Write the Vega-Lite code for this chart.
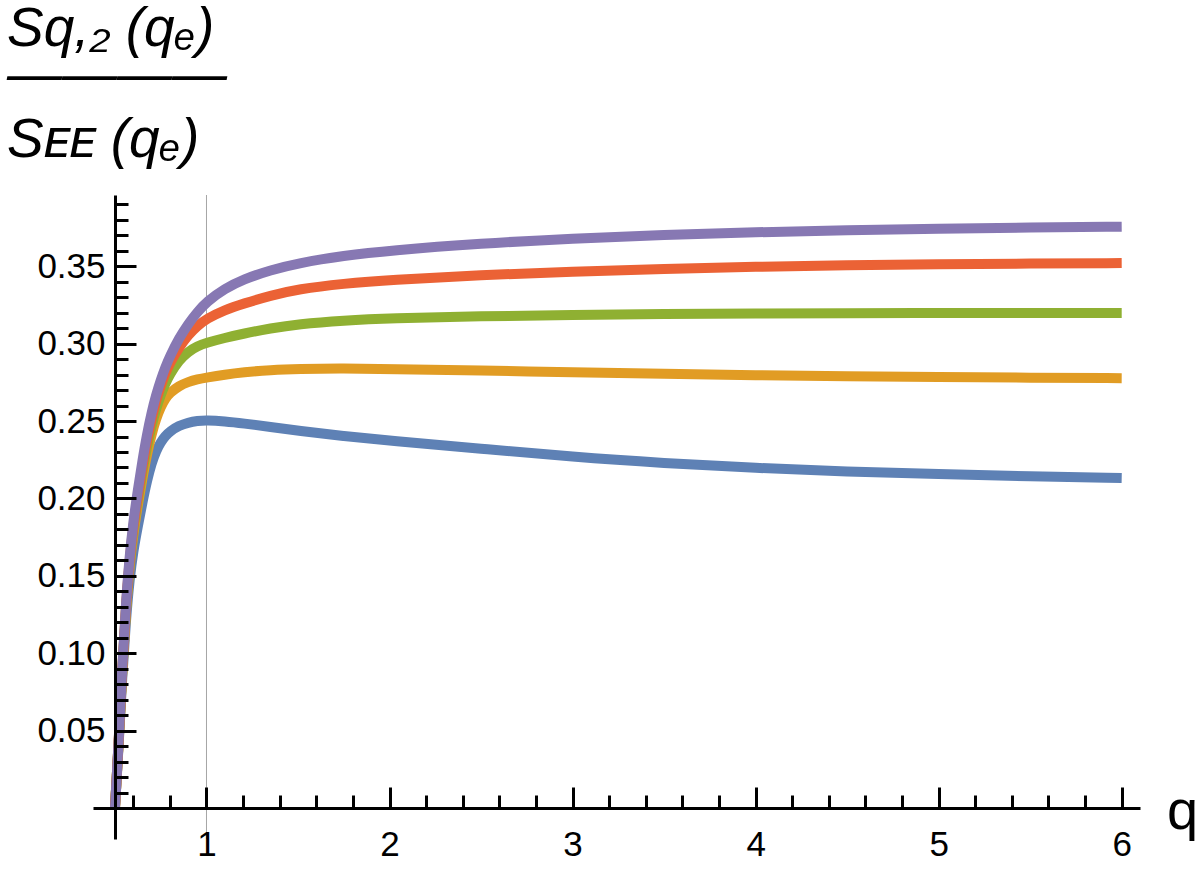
{
  "$schema": "https://vega.github.io/schema/vega-lite/v6.json",
  "width": 1047,
  "height": 644,
  "autosize": "none",
  "padding": {"left": 93, "top": 195, "right": 64, "bottom": 34},
  "background": "white",
  "config": {"view": {"stroke": null}, "font": "Liberation Sans"},
  "title": {
    "text": ["Sq,₂ (qₑ)", "————"],
    "subtitle": "Sᴇᴇ (qₑ)",
    "anchor": "start",
    "frame": "group",
    "dx": -86,
    "offset": 26,
    "font": "Liberation Sans",
    "fontSize": 55,
    "lineHeight": 46,
    "fontStyle": "italic",
    "fontWeight": "normal",
    "color": "black",
    "subtitleFont": "Liberation Sans",
    "subtitleFontSize": 55,
    "subtitleFontStyle": "italic",
    "subtitleColor": "black",
    "subtitlePadding": 10
  },
  "datasets": {
    "curves": [
      {"q": 0.5, "ratio": 0, "curve": "s1"},
      {"q": 0.51, "ratio": 0.02, "curve": "s1"},
      {"q": 0.52, "ratio": 0.04, "curve": "s1"},
      {"q": 0.54, "ratio": 0.086, "curve": "s1"},
      {"q": 0.56, "ratio": 0.122, "curve": "s1"},
      {"q": 0.58, "ratio": 0.148, "curve": "s1"},
      {"q": 0.6, "ratio": 0.166, "curve": "s1"},
      {"q": 0.625, "ratio": 0.182, "curve": "s1"},
      {"q": 0.65, "ratio": 0.1975, "curve": "s1"},
      {"q": 0.675, "ratio": 0.2115, "curve": "s1"},
      {"q": 0.7, "ratio": 0.2228, "curve": "s1"},
      {"q": 0.725, "ratio": 0.2308, "curve": "s1"},
      {"q": 0.75, "ratio": 0.2363, "curve": "s1"},
      {"q": 0.775, "ratio": 0.2403, "curve": "s1"},
      {"q": 0.8, "ratio": 0.2433, "curve": "s1"},
      {"q": 0.85, "ratio": 0.247, "curve": "s1"},
      {"q": 0.9, "ratio": 0.249, "curve": "s1"},
      {"q": 0.95, "ratio": 0.2501, "curve": "s1"},
      {"q": 1.0, "ratio": 0.2505, "curve": "s1"},
      {"q": 1.1, "ratio": 0.2498, "curve": "s1"},
      {"q": 1.2, "ratio": 0.2485, "curve": "s1"},
      {"q": 1.35, "ratio": 0.2462, "curve": "s1"},
      {"q": 1.5, "ratio": 0.2437, "curve": "s1"},
      {"q": 1.75, "ratio": 0.2402, "curve": "s1"},
      {"q": 2.0, "ratio": 0.2373, "curve": "s1"},
      {"q": 2.5, "ratio": 0.2321, "curve": "s1"},
      {"q": 3.0, "ratio": 0.2268, "curve": "s1"},
      {"q": 3.5, "ratio": 0.2228, "curve": "s1"},
      {"q": 4.0, "ratio": 0.2196, "curve": "s1"},
      {"q": 4.5, "ratio": 0.2173, "curve": "s1"},
      {"q": 5.0, "ratio": 0.2157, "curve": "s1"},
      {"q": 5.5, "ratio": 0.2143, "curve": "s1"},
      {"q": 6.0, "ratio": 0.2132, "curve": "s1"},
      {"q": 0.5, "ratio": 0, "curve": "s2"},
      {"q": 0.51, "ratio": 0.021, "curve": "s2"},
      {"q": 0.52, "ratio": 0.041, "curve": "s2"},
      {"q": 0.54, "ratio": 0.089, "curve": "s2"},
      {"q": 0.56, "ratio": 0.128, "curve": "s2"},
      {"q": 0.58, "ratio": 0.157, "curve": "s2"},
      {"q": 0.6, "ratio": 0.177, "curve": "s2"},
      {"q": 0.625, "ratio": 0.196, "curve": "s2"},
      {"q": 0.65, "ratio": 0.213, "curve": "s2"},
      {"q": 0.675, "ratio": 0.2285, "curve": "s2"},
      {"q": 0.7, "ratio": 0.2415, "curve": "s2"},
      {"q": 0.725, "ratio": 0.2515, "curve": "s2"},
      {"q": 0.75, "ratio": 0.2592, "curve": "s2"},
      {"q": 0.775, "ratio": 0.2645, "curve": "s2"},
      {"q": 0.8, "ratio": 0.2682, "curve": "s2"},
      {"q": 0.85, "ratio": 0.2727, "curve": "s2"},
      {"q": 0.9, "ratio": 0.2753, "curve": "s2"},
      {"q": 0.95, "ratio": 0.277, "curve": "s2"},
      {"q": 1.0, "ratio": 0.2781, "curve": "s2"},
      {"q": 1.1, "ratio": 0.28, "curve": "s2"},
      {"q": 1.2, "ratio": 0.2815, "curve": "s2"},
      {"q": 1.35, "ratio": 0.283, "curve": "s2"},
      {"q": 1.5, "ratio": 0.2837, "curve": "s2"},
      {"q": 1.75, "ratio": 0.284, "curve": "s2"},
      {"q": 2.0, "ratio": 0.2836, "curve": "s2"},
      {"q": 2.5, "ratio": 0.2826, "curve": "s2"},
      {"q": 3.0, "ratio": 0.2815, "curve": "s2"},
      {"q": 3.5, "ratio": 0.2805, "curve": "s2"},
      {"q": 4.0, "ratio": 0.2796, "curve": "s2"},
      {"q": 4.5, "ratio": 0.2789, "curve": "s2"},
      {"q": 5.0, "ratio": 0.2784, "curve": "s2"},
      {"q": 5.5, "ratio": 0.278, "curve": "s2"},
      {"q": 6.0, "ratio": 0.2777, "curve": "s2"},
      {"q": 0.5, "ratio": 0, "curve": "s3"},
      {"q": 0.51, "ratio": 0.021, "curve": "s3"},
      {"q": 0.52, "ratio": 0.042, "curve": "s3"},
      {"q": 0.54, "ratio": 0.09, "curve": "s3"},
      {"q": 0.56, "ratio": 0.13, "curve": "s3"},
      {"q": 0.58, "ratio": 0.159, "curve": "s3"},
      {"q": 0.6, "ratio": 0.18, "curve": "s3"},
      {"q": 0.625, "ratio": 0.1995, "curve": "s3"},
      {"q": 0.65, "ratio": 0.2175, "curve": "s3"},
      {"q": 0.675, "ratio": 0.2335, "curve": "s3"},
      {"q": 0.7, "ratio": 0.247, "curve": "s3"},
      {"q": 0.725, "ratio": 0.258, "curve": "s3"},
      {"q": 0.75, "ratio": 0.267, "curve": "s3"},
      {"q": 0.775, "ratio": 0.2742, "curve": "s3"},
      {"q": 0.8, "ratio": 0.2802, "curve": "s3"},
      {"q": 0.85, "ratio": 0.2893, "curve": "s3"},
      {"q": 0.9, "ratio": 0.2948, "curve": "s3"},
      {"q": 0.95, "ratio": 0.2983, "curve": "s3"},
      {"q": 1.0, "ratio": 0.3005, "curve": "s3"},
      {"q": 1.1, "ratio": 0.3037, "curve": "s3"},
      {"q": 1.2, "ratio": 0.3064, "curve": "s3"},
      {"q": 1.35, "ratio": 0.3099, "curve": "s3"},
      {"q": 1.5, "ratio": 0.3126, "curve": "s3"},
      {"q": 1.75, "ratio": 0.315, "curve": "s3"},
      {"q": 2.0, "ratio": 0.3164, "curve": "s3"},
      {"q": 2.5, "ratio": 0.3177, "curve": "s3"},
      {"q": 3.0, "ratio": 0.3185, "curve": "s3"},
      {"q": 3.5, "ratio": 0.3191, "curve": "s3"},
      {"q": 4.0, "ratio": 0.3195, "curve": "s3"},
      {"q": 4.5, "ratio": 0.3197, "curve": "s3"},
      {"q": 5.0, "ratio": 0.3198, "curve": "s3"},
      {"q": 5.5, "ratio": 0.3198, "curve": "s3"},
      {"q": 6.0, "ratio": 0.3198, "curve": "s3"},
      {"q": 0.5, "ratio": 0, "curve": "s4"},
      {"q": 0.51, "ratio": 0.021, "curve": "s4"},
      {"q": 0.52, "ratio": 0.042, "curve": "s4"},
      {"q": 0.54, "ratio": 0.091, "curve": "s4"},
      {"q": 0.56, "ratio": 0.131, "curve": "s4"},
      {"q": 0.58, "ratio": 0.161, "curve": "s4"},
      {"q": 0.6, "ratio": 0.182, "curve": "s4"},
      {"q": 0.625, "ratio": 0.202, "curve": "s4"},
      {"q": 0.65, "ratio": 0.2205, "curve": "s4"},
      {"q": 0.675, "ratio": 0.2375, "curve": "s4"},
      {"q": 0.7, "ratio": 0.2515, "curve": "s4"},
      {"q": 0.725, "ratio": 0.2632, "curve": "s4"},
      {"q": 0.75, "ratio": 0.2728, "curve": "s4"},
      {"q": 0.775, "ratio": 0.2808, "curve": "s4"},
      {"q": 0.8, "ratio": 0.2875, "curve": "s4"},
      {"q": 0.85, "ratio": 0.2975, "curve": "s4"},
      {"q": 0.9, "ratio": 0.3055, "curve": "s4"},
      {"q": 0.95, "ratio": 0.3115, "curve": "s4"},
      {"q": 1.0, "ratio": 0.316, "curve": "s4"},
      {"q": 1.1, "ratio": 0.3218, "curve": "s4"},
      {"q": 1.2, "ratio": 0.3258, "curve": "s4"},
      {"q": 1.35, "ratio": 0.331, "curve": "s4"},
      {"q": 1.5, "ratio": 0.3352, "curve": "s4"},
      {"q": 1.75, "ratio": 0.3388, "curve": "s4"},
      {"q": 2.0, "ratio": 0.3412, "curve": "s4"},
      {"q": 2.5, "ratio": 0.3443, "curve": "s4"},
      {"q": 3.0, "ratio": 0.3466, "curve": "s4"},
      {"q": 3.5, "ratio": 0.3483, "curve": "s4"},
      {"q": 4.0, "ratio": 0.3497, "curve": "s4"},
      {"q": 4.5, "ratio": 0.3507, "curve": "s4"},
      {"q": 5.0, "ratio": 0.3513, "curve": "s4"},
      {"q": 5.5, "ratio": 0.3517, "curve": "s4"},
      {"q": 6.0, "ratio": 0.352, "curve": "s4"},
      {"q": 0.5, "ratio": 0, "curve": "s5"},
      {"q": 0.51, "ratio": 0.021, "curve": "s5"},
      {"q": 0.52, "ratio": 0.043, "curve": "s5"},
      {"q": 0.54, "ratio": 0.092, "curve": "s5"},
      {"q": 0.56, "ratio": 0.133, "curve": "s5"},
      {"q": 0.58, "ratio": 0.163, "curve": "s5"},
      {"q": 0.6, "ratio": 0.185, "curve": "s5"},
      {"q": 0.625, "ratio": 0.2055, "curve": "s5"},
      {"q": 0.65, "ratio": 0.2245, "curve": "s5"},
      {"q": 0.675, "ratio": 0.2415, "curve": "s5"},
      {"q": 0.7, "ratio": 0.2555, "curve": "s5"},
      {"q": 0.725, "ratio": 0.267, "curve": "s5"},
      {"q": 0.75, "ratio": 0.2765, "curve": "s5"},
      {"q": 0.775, "ratio": 0.2848, "curve": "s5"},
      {"q": 0.8, "ratio": 0.2918, "curve": "s5"},
      {"q": 0.85, "ratio": 0.3035, "curve": "s5"},
      {"q": 0.9, "ratio": 0.3128, "curve": "s5"},
      {"q": 0.95, "ratio": 0.3203, "curve": "s5"},
      {"q": 1.0, "ratio": 0.327, "curve": "s5"},
      {"q": 1.1, "ratio": 0.3355, "curve": "s5"},
      {"q": 1.2, "ratio": 0.3415, "curve": "s5"},
      {"q": 1.35, "ratio": 0.3475, "curve": "s5"},
      {"q": 1.5, "ratio": 0.352, "curve": "s5"},
      {"q": 1.75, "ratio": 0.3568, "curve": "s5"},
      {"q": 2.0, "ratio": 0.3601, "curve": "s5"},
      {"q": 2.5, "ratio": 0.3647, "curve": "s5"},
      {"q": 3.0, "ratio": 0.3679, "curve": "s5"},
      {"q": 3.5, "ratio": 0.3702, "curve": "s5"},
      {"q": 4.0, "ratio": 0.372, "curve": "s5"},
      {"q": 4.5, "ratio": 0.3733, "curve": "s5"},
      {"q": 5.0, "ratio": 0.3743, "curve": "s5"},
      {"q": 5.5, "ratio": 0.375, "curve": "s5"},
      {"q": 6.0, "ratio": 0.3755, "curve": "s5"}
    ],
    "marker": [{"q": 1}]
  },
  "layer": [
    {
      "data": {"name": "marker"},
      "mark": {"type": "rule", "color": "#a6a6a6", "strokeWidth": 1},
      "encoding": {
        "x": {"field": "q", "type": "quantitative", "scale": {"domain": [0.38, 6.1], "nice": false, "zero": false}, "axis": null}
      }
    },
    {
      "data": {"name": "curves"},
      "mark": {"type": "line", "strokeWidth": 10, "interpolate": "basis"},
      "encoding": {
        "x": {
          "field": "q", "type": "quantitative",
          "scale": {"domain": [0.38, 6.1], "nice": false, "zero": false},
          "axis": {
            "orient": "bottom", "offset": -31, "values": [1, 2, 3, 4, 5, 6], "format": "d",
            "grid": false, "tickSize": -21, "tickWidth": 3, "tickColor": "black",
            "domainColor": "black", "domainWidth": 3,
            "labelFont": "Liberation Sans", "labelFontSize": 35, "labelColor": "black",
            "labelPadding": 40, "labelFlush": false, "labelOverlap": false,
            "title": "q", "titleFont": "Liberation Sans", "titleFontSize": 56, "titleFontWeight": "normal",
            "titleColor": "black", "titleX": 1089, "titleY": 20, "titleAlign": "center",
            "titleBaseline": "alphabetic", "titleAngle": 0, "zindex": 1
          }
        },
        "y": {
          "field": "ratio", "type": "quantitative",
          "scale": {"domain": [-0.02, 0.396], "nice": false, "zero": false},
          "axis": {
            "orient": "left", "offset": -22, "values": [0.05, 0.1, 0.15, 0.2, 0.25, 0.3, 0.35], "format": ".2f",
            "grid": false, "tickSize": -21, "tickWidth": 3, "tickColor": "black",
            "domainColor": "black", "domainWidth": 3,
            "labelFont": "Liberation Sans", "labelFontSize": 35, "labelColor": "black",
            "labelPadding": 31, "labelFlush": false, "labelOverlap": false,
            "title": null, "zindex": 1
          }
        },
        "color": {
          "field": "curve", "type": "nominal",
          "scale": {"domain": ["s1", "s2", "s3", "s4", "s5"], "range": ["#5E81B5", "#E19C24", "#8FB032", "#EB6235", "#8778B3"]},
          "legend": null
        }
      }
    },
    {
      "data": {"name": "curves"},
      "mark": {"type": "line", "opacity": 0},
      "encoding": {
        "x": {
          "field": "q", "type": "quantitative",
          "scale": {"domain": [0.38, 6.1], "nice": false, "zero": false},
          "axis": {
            "orient": "bottom", "offset": -31,
            "values": [0.6, 0.8, 1.2, 1.4, 1.6, 1.8, 2.2, 2.4, 2.6, 2.8, 3.2, 3.4, 3.6, 3.8, 4.2, 4.4, 4.6, 4.8, 5.2, 5.4, 5.6, 5.8],
            "grid": false, "domain": false, "labels": false,
            "tickSize": -13, "tickWidth": 3, "tickColor": "black", "title": null, "zindex": 1
          }
        },
        "y": {
          "field": "ratio", "type": "quantitative",
          "scale": {"domain": [-0.02, 0.396], "nice": false, "zero": false},
          "axis": {
            "orient": "left", "offset": -22,
            "values": [0.01, 0.02, 0.03, 0.04, 0.06, 0.07, 0.08, 0.09, 0.11, 0.12, 0.13, 0.14, 0.16, 0.17, 0.18, 0.19, 0.21, 0.22, 0.23, 0.24, 0.26, 0.27, 0.28, 0.29, 0.31, 0.32, 0.33, 0.34, 0.36, 0.37, 0.38, 0.39],
            "grid": false, "domain": false, "labels": false,
            "tickSize": -13, "tickWidth": 3, "tickColor": "black", "title": null, "zindex": 1
          }
        },
        "detail": {"field": "curve", "type": "nominal"}
      }
    }
  ],
  "resolve": {
    "scale": {"x": "shared", "y": "shared"},
    "axis": {"x": "independent", "y": "independent"}
  }
}
